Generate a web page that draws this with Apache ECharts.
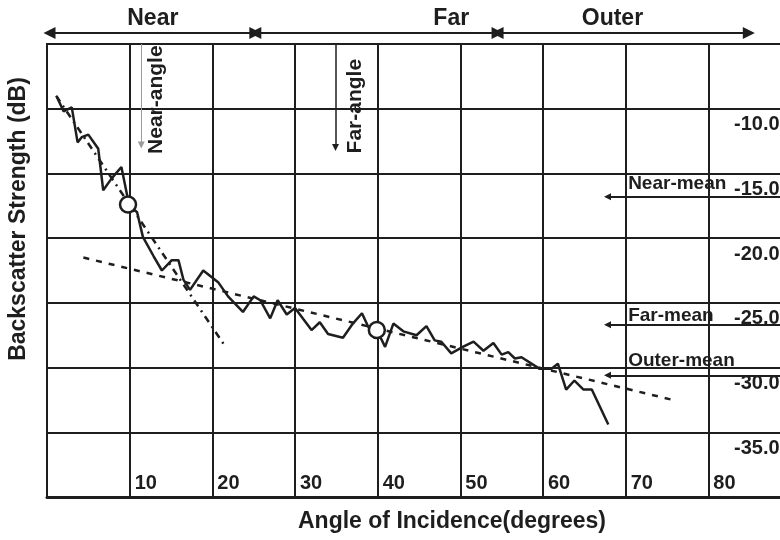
<!DOCTYPE html>
<html>
<head>
<meta charset="utf-8">
<title>Backscatter Strength vs Angle of Incidence</title>
<script src="https://cdn.jsdelivr.net/npm/echarts@6/dist/echarts.min.js"></script>
<style>
  html, body { margin: 0; padding: 0; background: #fff; }
  #chart { width: 780px; height: 540px; }
</style>
</head>
<body>
<div id="chart"></div>
<script>
var angles = [1.2, 2.0, 3.0, 3.7, 4.2, 5.0, 6.2, 6.8, 7.8, 9.0,
  9.7, 9.8, 10.9, 11.6, 12.9, 13.9, 15.1, 15.9, 16.5, 17.3,
  18.9, 20.7, 21.9, 23.7, 25.0, 25.8, 27.0, 27.9, 29.0, 30.0,
  32.0, 33.0, 34.0, 35.8, 37.0, 38.1, 38.9, 39.9, 40.9, 41.9,
  43.1, 44.7, 45.9, 46.9, 47.7, 48.9, 50.3, 51.6, 52.8, 54.0,
  55.0, 55.8, 56.6, 57.4, 59.6, 61.0, 61.8, 62.8, 63.8, 64.9,
  65.9, 67.9];
var backscatter = [-9.1, -10.2, -9.9, -12.6, -12.2, -12.0, -13.1, -16.3, -15.4, -14.5,
  -16.7, -17.4, -18.0, -19.9, -21.4, -22.5, -21.7, -21.7, -23.2, -24.0,
  -22.5, -23.4, -24.5, -25.7, -24.5, -24.8, -26.2, -24.8, -25.9, -25.4,
  -27.1, -26.5, -27.4, -27.7, -26.6, -25.8, -26.9, -27.1, -28.4, -26.6,
  -27.2, -27.5, -26.8, -27.9, -28.0, -28.9, -28.4, -28.0, -28.7, -28.1,
  -29.0, -28.8, -29.3, -29.2, -30.1, -30.1, -29.7, -31.7, -31.0, -31.7,
  -31.7, -34.4];

// open circles (near / far reference points)
var circleAngles = [9.8, 39.9];
var circleDb = [-17.4, -27.1];

// fitted lines
var nearFitAngles = [1.1, 21.6];
var nearFitDb = [-9.0, -28.4];
var farFitAngles = [4.4, 75.7];
var farFitDb = [-21.5, -32.5];

// ranges on top
var rangeNames = ['Near', 'Far', 'Outer'];
var rangeStart = [0.3, 25.2, 54.5];
var rangeEnd = [25.2, 54.5, 84.9];
var rangeLabelAt = [12.8, 48.9, 68.4];

// mean levels
var meanNames = ['Near-mean', 'Far-mean', 'Outer-mean'];
var meanDb = [-16.8, -26.7, -30.6];
var meanLabelDb = [-15.8, -26.0, -29.5];

// angle markers
var angleNames = ['Near-angle', 'Far-angle'];
var angleAt = [11.4, 34.9];
var angleArrowEnd = [-12.8, -13.0];
var angleLabelAt = [13.2, 37.3];
var angleLabelDb = [-9.3, -9.8];

var xTicks = [10, 20, 30, 40, 50, 60, 70, 80];
var yTicks = [-10, -15, -20, -25, -30, -35];

var INK = '#1e1e1e';
var FONT = "'Liberation Sans', Arial, sans-serif";
var NARROW = "'Liberation Sans Narrow', 'Arial Narrow', 'Liberation Sans', sans-serif";

var chart = echarts.init(document.getElementById('chart'));

function pairs(xs, ys) {
  return xs.map(function (x, i) { return [x, ys[i]]; });
}

var topY = -4.15;      // level of the range arrows (just above the frame)
var topLabelY = -3.05;

var option = {
  animation: false,
  backgroundColor: '#fff',
  grid: {
    left: 47, top: 44, width: 744, bottom: 43,
    outerBoundsMode: 'none', containLabel: false,
    show: true, borderColor: INK, borderWidth: 2
  },
  xAxis: {
    type: 'value', min: 0, max: 90, interval: 10,
    axisLine: { show: true, lineStyle: { color: INK, width: 3 } },
    axisTick: { show: false },
    splitLine: { show: true, lineStyle: { color: INK, width: 2 } },
    axisLabel: {
      inside: true, margin: 4, align: 'left', verticalAlign: 'bottom',
      padding: [0, 0, 0, 5],
      color: INK, fontWeight: 'bold', fontSize: 20, fontFamily: NARROW,
      formatter: function (v) { return xTicks.indexOf(v) >= 0 ? String(v) : ''; }
    }
  },
  yAxis: {
    type: 'value', position: 'right', min: -40, max: -5, interval: 5,
    axisLine: { show: false },
    axisTick: { show: false },
    splitLine: { show: true, lineStyle: { color: INK, width: 2 } },
    axisLabel: {
      inside: true, margin: 57, align: 'left', verticalAlign: 'top',
      padding: [6, 0, 0, 0],
      color: INK, fontWeight: 'bold', fontSize: 20, fontFamily: FONT,
      formatter: function (v) { return yTicks.indexOf(v) >= 0 ? v.toFixed(1) : ''; }
    }
  },
  graphic: [
    {
      type: 'text', x: 19, y: 219, rotation: Math.PI / 2,
      style: {
        text: 'Backscatter Strength (dB)', fill: INK,
        font: 'bold 23px ' + FONT, align: 'center', verticalAlign: 'middle'
      }
    },
    {
      type: 'text', x: 452, y: 522,
      style: {
        text: 'Angle of Incidence(degrees)', fill: INK,
        font: 'bold 23px ' + FONT, align: 'center', verticalAlign: 'middle'
      }
    }
  ],
  series: [
    {
      name: 'near fit', type: 'line', silent: true, symbol: 'none',
      data: pairs(nearFitAngles, nearFitDb),
      lineStyle: { color: INK, width: 2.5, type: [7, 5, 2, 5] }, z: 2
    },
    {
      name: 'far fit', type: 'line', silent: true, symbol: 'none',
      data: pairs(farFitAngles, farFitDb),
      lineStyle: { color: INK, width: 2.5, type: [6, 7] }, z: 2
    },
    {
      name: 'backscatter', type: 'line', silent: true, symbol: 'none',
      data: pairs(angles, backscatter),
      lineStyle: { color: INK, width: 2.5 }, z: 3
    },
    {
      name: 'reference points', type: 'scatter', silent: true,
      data: pairs(circleAngles, circleDb),
      symbol: 'circle', symbolSize: 16,
      itemStyle: { color: '#fff', borderColor: INK, borderWidth: 2.5, opacity: 1 }, z: 4
    },
    {
      // range arrows above the frame
      name: 'ranges', type: 'lines', coordinateSystem: 'cartesian2d',
      silent: true, clip: false, z: 5,
      symbol: ['triangle', 'triangle'], symbolSize: 12,
      lineStyle: { color: INK, width: 2, opacity: 1 },
      data: rangeNames.map(function (n, i) {
        return { coords: [[rangeStart[i], topY], [rangeEnd[i], topY]] };
      })
    },
    {
      name: 'means', type: 'lines', coordinateSystem: 'cartesian2d',
      silent: true, clip: false, z: 5,
      symbol: ['triangle', 'none'], symbolSize: 7,
      lineStyle: { color: INK, width: 2, opacity: 1 },
      data: meanDb.map(function (d) {
        return { coords: [[67.8, d], [92, d]] };
      })
    },
    {
      name: 'angle arrows', type: 'lines', coordinateSystem: 'cartesian2d',
      silent: true, clip: false, z: 5,
      symbol: ['none', 'triangle'], symbolSize: 7,
      data: angleAt.map(function (a, i) {
        return {
          coords: [[a, -5], [a, angleArrowEnd[i]]],
          lineStyle: { color: i === 0 ? '#9a9a9a' : INK, width: i === 0 ? 1 : 1.5, opacity: 1 }
        };
      })
    },
    {
      name: 'range labels', type: 'scatter', silent: true, clip: false,
      symbolSize: 0, z: 6, itemStyle: { opacity: 1 },
      data: rangeNames.map(function (n, i) { return { name: n, value: [rangeLabelAt[i], topLabelY] }; }),
      label: {
        show: true, position: 'inside', formatter: '{b}', color: INK,
        fontWeight: 'bold', fontSize: 23, fontFamily: FONT
      }
    },
    {
      name: 'mean labels', type: 'scatter', silent: true, clip: false,
      symbolSize: 0, z: 6, itemStyle: { opacity: 1 },
      data: meanNames.map(function (n, i) { return { name: n, value: [70.3, meanLabelDb[i]] }; }),
      label: {
        show: true, position: 'inside', formatter: '{b}', color: INK,
        align: 'left', verticalAlign: 'middle',
        fontWeight: 'bold', fontSize: 19, fontFamily: FONT
      }
    },
    {
      name: 'angle labels', type: 'scatter', silent: true, clip: false,
      symbolSize: 0, z: 6, itemStyle: { opacity: 1 },
      data: angleNames.map(function (n, i) { return { name: n, value: [angleLabelAt[i], angleLabelDb[i]] }; }),
      label: {
        show: true, position: 'inside', formatter: '{b}', color: INK, rotate: 90,
        align: 'center', verticalAlign: 'middle',
        fontWeight: 'bold', fontSize: 21, fontFamily: FONT
      }
    }
  ]
};

chart.setOption(option);
window.onresize = function () { chart.resize(); };
</script>
</body>
</html>
